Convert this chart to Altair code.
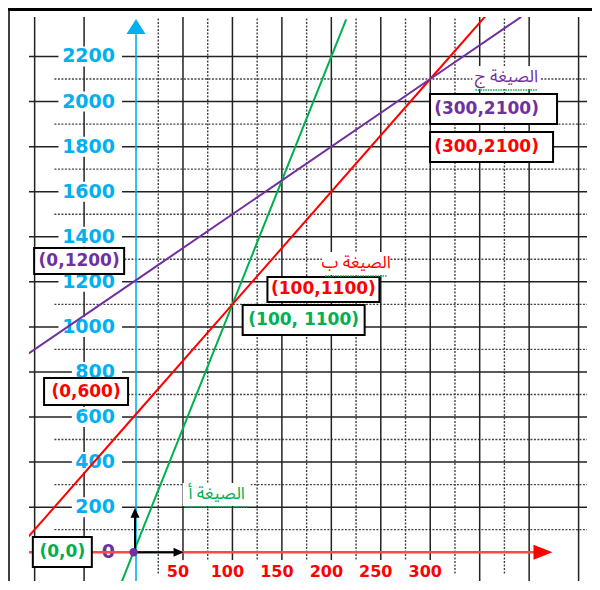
import altair as alt
import pandas as pd

GREEN = "#00b050"
RED = "#ff0000"
PURPLE = "#7030a0"
BLUE = "#00b0f0"

# ---------------- data ----------------
# each line: the labelled points plus where it leaves the frame
green_x = [-12, 0, 100, 215]
green_y = [-132, 0, 1100, 2365]
red_x = [-106, 0, 100, 300, 356]
red_y = [70, 600, 1100, 2100, 2380]
purple_x = [-106, 0, 300, 392]
purple_y = [882, 1200, 2100, 2376]

y_tick_values = [0, 200, 400, 600, 800, 1000, 1200, 1400, 1600, 1800, 2000, 2200]
x_tick_values = [50, 100, 150, 200, 250, 300]

grid_solid_x = [-100, -50, 50, 100, 150, 200, 250, 300, 350, 400, 450]
grid_dotted_x = [25, 75, 125, 175, 225, 275, 325, 375]
grid_solid_y = [200, 400, 600, 800, 1000, 1200, 1400, 1600, 1800, 2000, 2200]
grid_dotted_y = [100, 300, 500, 700, 900, 1100, 1300, 1500, 1700, 1900, 2100]

point_labels = ["(0,1200)", "(0,600)", "(0,0)", "(100,1100)", "(100, 1100)",
                "(300,2100)", "(300,2100)"]
point_label_colors = [PURPLE, RED, GREEN, RED, GREEN, PURPLE, RED]
point_label_x = [-55, -48, -72, 192, 172, 364, 362]
point_label_y = [1292, 713, 1, 1166, 1030, 1967, 1798]

formula_labels = ["الصيغة ج", "الصيغة ب", "الصيغة أ"]
formula_colors = [PURPLE, RED, GREEN]
formula_x = [377, 225, 84]
formula_y = [2109, 1284, 258]

# ---------------- layout / styling ----------------
W, H = 558, 564
KX = W / (458.5 + 105.7)      # px per x unit
KY = H / (2375.3 + 127.8)     # px per y unit
XD = [-105.7, 458.5]
YD = [-127.8, 2375.3]

box_w = [90, 84, 59, 112, 122, 127, 123]
box_h = [26, 27, 30, 25, 30, 30, 30]
text_dx = [0, 0, 0, 0, 0, -7, -5]

ARABIC_FONT = "Noto Sans Arabic, Noto Naskh Arabic, DejaVu Sans"


def X(f):
    return alt.X(f, type="quantitative", scale=alt.Scale(domain=XD, nice=False, zero=False), axis=None)


def Y(f):
    return alt.Y(f, type="quantitative", scale=alt.Scale(domain=YD, nice=False, zero=False), axis=None)


layers = []

# dotted grid
dv = pd.DataFrame({"x": grid_dotted_x, "y1": -95, "y2": YD[1]})
layers.append(alt.Chart(dv).mark_rule(color="#444", strokeWidth=1.4, strokeDash=[2, 1.5]).encode(
    x=X("x"), y=Y("y1"), y2="y2"))
dh = pd.DataFrame({"y": grid_dotted_y, "x1": -80, "x2": XD[1]})
layers.append(alt.Chart(dh).mark_rule(color="#444", strokeWidth=1.4, strokeDash=[2, 1.5]).encode(
    y=Y("y"), x=X("x1"), x2="x2"))

# solid grid
layers.append(alt.Chart(pd.DataFrame({"x": grid_solid_x})).mark_rule(color="#222", strokeWidth=1.5).encode(x=X("x")))
layers.append(alt.Chart(pd.DataFrame({"y": grid_solid_y})).mark_rule(color="#222", strokeWidth=1.5).encode(y=Y("y")))

# y tick labels with white backgrounds
ylab = pd.DataFrame({"v": y_tick_values, "t": [str(v) for v in y_tick_values]})
ylab["col"] = [PURPLE if v == 0 else BLUE for v in y_tick_values]
ylab["n"] = ylab["t"].str.len()
right_px = -18.5
ylab["tx"] = right_px / KX
ylab["bx1"] = (right_px - ylab["n"] * 13.4 - 3) / KX
ylab["bx2"] = (right_px + 7) / KX
ylab["by1"] = ylab["v"] - 10 / KY
ylab["by2"] = ylab["v"] + 10 / KY
layers.append(alt.Chart(ylab).mark_rect(color="white").encode(x=X("bx1"), x2="bx2", y=Y("by1"), y2="by2"))
layers.append(alt.Chart(ylab).mark_text(font="DejaVu Sans", fontWeight="bold", fontSize=19,
                                        align="right", baseline="middle").encode(
    x=X("tx"), y=Y("v"), text="t:N", color=alt.Color("col:N", scale=None)))

# x tick labels with white backgrounds
xlab = pd.DataFrame({"v": x_tick_values, "t": [str(v) for v in x_tick_values]})
xlab["tx"] = xlab["v"] - 5 / KX
xlab["ty"] = -88
xlab["n"] = xlab["t"].str.len()
xlab["bx1"] = xlab["tx"] - (xlab["n"] * 6 + 3) / KX
xlab["bx2"] = xlab["tx"] + (xlab["n"] * 6 + 3) / KX
xlab["by1"] = -35
xlab["by2"] = YD[0]
layers.append(alt.Chart(xlab).mark_rect(color="white").encode(x=X("bx1"), x2="bx2", y=Y("by1"), y2="by2"))
layers.append(alt.Chart(xlab).mark_text(font="DejaVu Sans", fontWeight="bold", fontSize=16, color=RED,
                                        baseline="middle").encode(x=X("tx"), y=Y("ty"), text="t:N"))

# red x axis + arrow
layers.append(alt.Chart(pd.DataFrame({"y": [0], "x1": [XD[0]], "x2": [406]})).mark_rule(
    color="#ff4848", strokeWidth=2.5).encode(y=Y("y"), x=X("x1"), x2="x2"))
layers.append(alt.Chart(pd.DataFrame({"x": [414], "y": [0]})).mark_point(
    shape="M-1,-0.79L1,0L-1,0.79Z", filled=True, size=361, color=RED, opacity=1).encode(x=X("x"), y=Y("y")))

# blue y axis + arrow
layers.append(alt.Chart(pd.DataFrame({"x": [2.5], "y1": [YD[0]], "y2": [2300]})).mark_rule(
    color=BLUE, strokeWidth=1.6).encode(x=X("x"), y=Y("y1"), y2="y2"))
layers.append(alt.Chart(pd.DataFrame({"x": [2.5], "y": [2333]})).mark_point(
    shape="M0,-0.79L1,0.79L-1,0.79Z", filled=True, size=361, color=BLUE, opacity=1).encode(x=X("x"), y=Y("y")))

# the three lines
for xs, ys, col in [(green_x, green_y, GREEN), (red_x, red_y, RED), (purple_x, purple_y, PURPLE)]:
    d = pd.DataFrame({"x": xs, "y": ys})
    layers.append(alt.Chart(d).mark_line(color=col, strokeWidth=2, clip=True).encode(x=X("x"), y=Y("y")))

# black unit arrows from origin
layers.append(alt.Chart(pd.DataFrame({"x": [1.5], "y1": [0], "y2": [160]})).mark_rule(
    color="black", strokeWidth=2).encode(x=X("x"), y=Y("y1"), y2="y2"))
layers.append(alt.Chart(pd.DataFrame({"x": [1.5], "y": [175]})).mark_point(
    shape="M0,-1L0.9,1L-0.9,1Z", filled=True, size=100, color="black", opacity=1).encode(x=X("x"), y=Y("y")))
layers.append(alt.Chart(pd.DataFrame({"x1": [1.5], "x2": [41], "y": [0]})).mark_rule(
    color="black", strokeWidth=2).encode(x=X("x1"), x2="x2", y=Y("y")))
layers.append(alt.Chart(pd.DataFrame({"x": [45.5], "y": [0]})).mark_point(
    shape="M-1,-0.9L1,0L-1,0.9Z", filled=True, size=100, color="black", opacity=1).encode(x=X("x"), y=Y("y")))

# purple dot at origin
layers.append(alt.Chart(pd.DataFrame({"x": [0], "y": [0]})).mark_circle(
    color=PURPLE, size=70, opacity=1).encode(x=X("x"), y=Y("y")))

# boxed coordinate labels
pl = pd.DataFrame({"t": point_labels, "col": point_label_colors,
                   "cx": point_label_x, "cy": point_label_y, "w": box_w, "h": box_h, "dx": text_dx})
pl["bx1"] = pl["cx"] - pl["w"] / 2 / KX
pl["bx2"] = pl["cx"] + pl["w"] / 2 / KX
pl["by1"] = pl["cy"] - pl["h"] / 2 / KY
pl["by2"] = pl["cy"] + pl["h"] / 2 / KY
pl["tx"] = pl["cx"] + pl["dx"] / KX
layers.append(alt.Chart(pl).mark_rect(fill="white", stroke="black", strokeWidth=2).encode(
    x=X("bx1"), x2="bx2", y=Y("by1"), y2="by2"))
layers.append(alt.Chart(pl).mark_text(font="DejaVu Sans", fontWeight="bold", fontSize=17,
                                      baseline="middle").encode(
    x=X("tx"), y=Y("cy"), text="t:N", color=alt.Color("col:N", scale=None)))

# formula names with white background and wavy-ish underline
fl = pd.DataFrame({"t": formula_labels, "col": formula_colors, "cx": formula_x, "cy": formula_y})
fl["bx1"] = fl["cx"] - 34 / KX
fl["bx2"] = fl["cx"] + 34 / KX
fl["by1"] = fl["cy"] - 12 / KY
fl["by2"] = fl["cy"] + 11 / KY
fl["ux1"] = fl["cx"] - 31 / KX
fl["ux2"] = fl["cx"] + 31 / KX
fl["uy"] = fl["cy"] - 13 / KY
layers.append(alt.Chart(fl).mark_rect(color="white").encode(x=X("bx1"), x2="bx2", y=Y("by1"), y2="by2"))
layers.append(alt.Chart(fl).mark_text(font=ARABIC_FONT, fontSize=17, baseline="middle").encode(
    x=X("cx"), y=Y("cy"), text="t:N", color=alt.Color("col:N", scale=None)))
layers.append(alt.Chart(fl).mark_rule(color=GREEN, strokeWidth=1.5, strokeDash=[1.5, 1]).encode(
    x=X("ux1"), x2="ux2", y=Y("uy")))

# frame
layers.append(alt.Chart().mark_rule(color="black", strokeWidth=3).encode(
    x=alt.value(-21), x2=alt.value(W + 5), y=alt.value(-7.5)))
layers.append(alt.Chart().mark_rule(color="black", strokeWidth=1.5).encode(
    x=alt.value(-20), y=alt.value(-6), y2=alt.value(H)))

chart = alt.layer(*layers).properties(
    width=W, height=H,
    autosize=alt.AutoSizeParams(type="none"),
    padding={"left": 21, "top": 9, "right": 5, "bottom": 1},
).configure_view(strokeWidth=0)

chart.save("out.html", embed_options={"renderer": "svg", "actions": False})
